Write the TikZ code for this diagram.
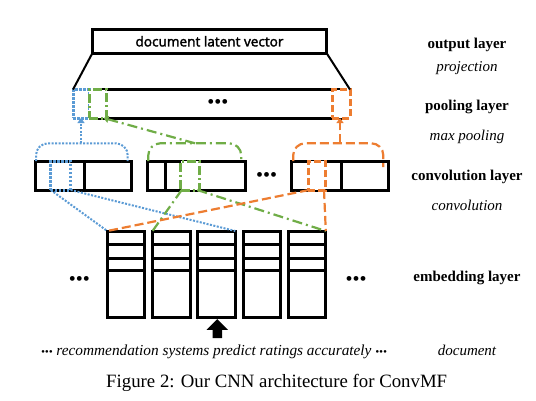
\documentclass[tikz,border=0pt]{standalone}
\usepackage{fontspec}
\setmainfont{Liberation Serif}
\newfontfamily\boxfont[FakeBold=2.2]{Open Sans}
\usetikzlibrary{shapes.arrows,arrows.meta}
\definecolor{cblue}{RGB}{91,155,213}
\definecolor{cgreen}{RGB}{112,173,71}
\definecolor{corange}{RGB}{237,125,49}
\begin{document}
\begin{tikzpicture}[x=1pt,y=-1pt,
  blk/.style={draw=black, line width=3pt, inner sep=0pt, outer sep=0pt, fill=white},
  bluebox/.style={draw=cblue, line width=3pt, dash pattern=on 2.5pt off 1.5pt, inner sep=0pt, outer sep=0pt},
  greenbox/.style={draw=cgreen, line width=3pt, dash pattern=on 9pt off 3pt on 2pt off 3pt, fill=white, inner sep=0pt, outer sep=0pt},
  orangebox/.style={draw=corange, line width=3pt, dash pattern=on 7pt off 3pt, fill=white, inner sep=0pt, outer sep=0pt},
  bluecon/.style={draw=cblue, line width=2pt, dash pattern=on 2pt off 1.5pt},
  greencon/.style={draw=cgreen, line width=2.2pt, dash pattern=on 10pt off 4pt on 2pt off 4pt},
  orangecon/.style={draw=corange, line width=2.2pt, dash pattern=on 9pt off 4pt},
  tip/.style={-{Triangle[length=5pt,width=7pt]}},
  ellip/.style={font=\fontsize{20}{20}\selectfont, inner sep=0pt},
  layername/.style={font=\bfseries\fontsize{15}{15}\selectfont, inner sep=0pt},
  layerop/.style={font=\itshape\fontsize{15}{15}\selectfont, inner sep=0pt},
]
\useasboundingbox[fill=white] (0,0) rectangle (536,400);

% ---------- boxes (positions) ----------
\path
  (209.5,41.3) node[blk, minimum width=234.4pt, minimum height=24pt] (top) {}
  (81,103.75)   coordinate (poolBc)
  (97.75,103.75) coordinate (poolGc)
  (341,103.75)  coordinate (poolOc);

% embedding columns
\foreach \i in {1,...,5}{
  \node[blk, minimum width=37.5pt, minimum height=86.7pt] (e\i) at ({107.3+45.25*(\i-1)+18.75},274.35) {};
}

% conv boxes
\node[blk, minimum width=96.7pt, minimum height=29pt] (c1) at (83.35,175.5) {};
\node[blk, minimum width=98.4pt, minimum height=29pt] (c2) at (196.5,175.5) {};
\node[blk, minimum width=96.6pt, minimum height=29pt] (c3) at (340,175.5) {};

% pooling bar
\node[blk, minimum width=243pt, minimum height=28.5pt] (pool) at (219.5,103.75) {};
\node[bluebox, minimum width=16pt, minimum height=28.5pt] (poolB) at (poolBc) {};

% bracket tops
\coordinate (bB) at (81,143.3);
\coordinate (bG) at (195,143.3);
\coordinate (bO) at (340,143.3);

% ---------- connectors ----------
\draw[line width=2pt] (top.south west) -- (poolB.north west);

% blue
\draw[bluecon, rounded corners=12pt] ([xshift=1pt]c1.north west) |- (bB) -| ([xshift=-4pt]c1.north east);
\draw[bluecon, tip] (bB) -- (poolB.south);
% green
\draw[greencon, rounded corners=12pt] ([xshift=1pt]c2.north west) |- (bG) -| ([xshift=-4.5pt]c2.north east);
% orange
\draw[orangecon, rounded corners=12pt] ([xshift=1.5pt]c3.north west) |- (bO) -| ([xshift=-5pt,yshift=-6pt]c3.north east);

% dividers
\draw[line width=3pt] ([xshift=1pt]c1.north) -- ([xshift=1pt]c1.south);
\draw[line width=3pt] ([xshift=-30.8pt]c2.north) -- ([xshift=-30.8pt]c2.south);
\draw[line width=3pt] ([xshift=1.7pt]c3.north) -- ([xshift=1.7pt]c3.south);

% embedding rows
\foreach \i in {1,...,5}{
  \foreach \d in {13,27.3,39.7}{
    \draw[line width=3pt] ([yshift=-\d pt]e\i.north west) -- ([yshift=-\d pt]e\i.north east);
  }
}

% inner highlighted boxes
\node[bluebox, minimum width=20pt, minimum height=29pt] (c1B) at (60.7,175.5) {};
\node[greenbox, minimum width=18.6pt, minimum height=29pt] (c2G) at (190,175.5) {};
\node[orangebox, minimum width=17pt, minimum height=29pt] (c3O) at (316.5,175.5) {};
\node[greenbox, minimum width=17.5pt, minimum height=28.5pt] (poolG) at (poolGc) {};
\node[orangebox, minimum width=18pt, minimum height=28.5pt] (poolO) at (poolOc) {};

\draw[line width=2pt] (top.south east) -- (poolO.north east);
\draw[greencon, tip] (bG) -- ([xshift=-3pt]poolG.south east);
\draw[orangecon, tip] (bO) -- (bO |- poolO.south);

% lines from conv to embedding
\draw[bluecon] (c1B.south west) -- (e1.north west);
\draw[bluecon] (c1B.south east) -- (e3.north east);
\draw[greencon] ([xshift=1pt]c2G.south west) -- (e2.north west);
\draw[greencon] ([xshift=-2pt]c2G.south east) -- (e5.north east);
\draw[orangecon] ([xshift=1pt]c3O.south west) -- (e1.north west);
\draw[orangecon] ([xshift=-1pt]c3O.south east) -- (e5.north east);

% ---------- texts ----------
\node[font=\boxfont\fontsize{13.6}{13.6}\selectfont, inner sep=0pt] (toptext) at (top) {document latent vector};
\node[ellip] (dpool) at (218,104) {\textbullet\textbullet\textbullet};
\node[ellip] (dconv) at (266.7,177) {\textbullet\textbullet\textbullet};
\node[ellip] (demL) at (79.3,281) {\textbullet\textbullet\textbullet};
\node[ellip] (demR) at (356,281) {\textbullet\textbullet\textbullet};

\node[single arrow, fill=black, inner sep=4.5pt, minimum height=19pt, minimum width=21pt,
      single arrow head extend=6pt, single arrow head indent=0pt, shape border rotate=90] (arr) at (217.3,331) {};

\node[font=\itshape\fontsize{15.3}{15.3}\selectfont, inner sep=0pt] (sent) at (214,352)
  {{\fontsize{11}{11}\selectfont\textbullet\textbullet\textbullet} recommendation systems predict ratings accurately {\fontsize{11}{11}\selectfont\textbullet\textbullet\textbullet}};

\node[layername] (lOut)  at (467,45)    {output layer};
\node[layerop]   (lProj) at (467,68.3)  {projection};
\node[layername] (lPool) at (467,107.3) {pooling layer};
\node[layerop]   (lMax)  at (467,136.7) {max pooling};
\node[layername] (lConv) at (467,176.7) {convolution layer};
\node[layerop]   (lCvo)  at (467,205)   {convolution};
\node[layername] (lEmb)  at (467,278.3) {embedding layer};
\node[layerop]   (lDoc)  at (467,350)   {document};

\node[font=\fontsize{18.8}{18.8}\selectfont, inner sep=0pt] (cap) at (276.7,382.5) {Figure 2: Our CNN architecture for ConvMF};
\end{tikzpicture}
\end{document}
